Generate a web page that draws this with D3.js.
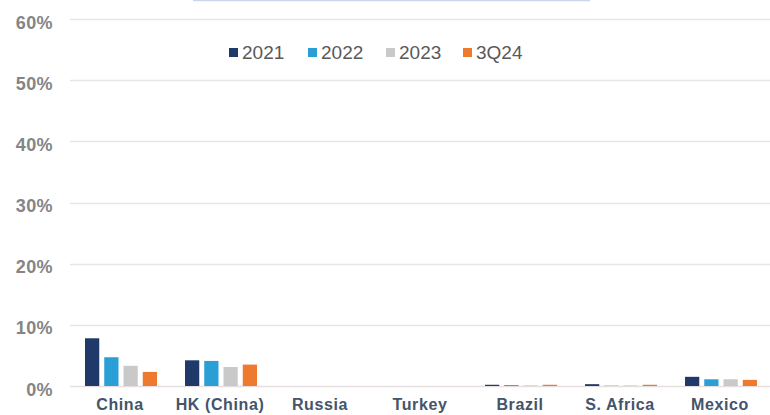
<!DOCTYPE html>
<html>
<head>
	<meta charset='utf-8'>
	<title>ShareChart</title>
	<script src='https://cdn.jsdelivr.net/npm/d3@7'></script>
	<style>
		body { margin: 0; background: #fff; }
	</style>
</head>
<body>
	<svg width='770' height='415'></svg>
	<script>
		// data
		const categories = ['China', 'HK (China)', 'Russia', 'Turkey', 'Brazil', 'S. Africa', 'Mexico']
		const seriesNames = ['2021', '2022', '2023', '3Q24']
		const v2021 = [7.8, 4.2, 0, 0, 0.2, 0.3, 1.5]
		const v2022 = [4.7, 4.1, 0, 0, 0.15, 0.05, 1.1]
		const v2023 = [3.3, 3.1, 0, 0, 0.1, 0.1, 1.1]
		const v3Q24 = [2.3, 3.5, 0, 0, 0.2, 0.2, 1.0]
		const yTicks = [0, 10, 20, 30, 40, 50, 60]
		const colors = ['#1f3a68', '#2a9fd6', '#c9c9c9', '#ee7a30']

		const series = [v2021, v2022, v2023, v3Q24]

		const margin = { top: 19, left: 70, right: 0, bottom: 29 }
		const width = 770, height = 415
		const font = 'Liberation Sans, Arial, sans-serif'

		const svg = d3.select('svg')

		// cropped title box border at the very top
		svg.append('line')
			.attr('x1', 193).attr('x2', 590).attr('y1', 0.5).attr('y2', 0.5)
			.attr('stroke', '#c9d6ee').attr('stroke-width', 1.5)

		const x = d3.scaleBand()
			.domain(categories)
			.range([margin.left, width - margin.right])

		const xInner = d3.scaleBand()
			.domain(seriesNames)
			.range([0, 72])
			.paddingInner(0.26)

		const y = d3.scaleLinear()
			.domain([0, 60])
			.range([height - margin.bottom, margin.top])

		// gridlines
		svg.append('g')
			.selectAll('line')
			.data(yTicks)
			.enter()
			.append('line')
			.attr('x1', margin.left)
			.attr('x2', width - margin.right)
			.attr('y1', d => Math.round(y(d)) + 0.5)
			.attr('y2', d => Math.round(y(d)) + 0.5)
			.attr('stroke', d => d === 0 ? '#e6dede' : '#e6e6e6')
			.attr('stroke-width', 1.5)

		// y axis labels
		const yAxis = d3.axisLeft(y).tickValues(yTicks).tickSize(0).tickPadding(17).tickFormat(d => d + '%')
		const gy = svg.append('g').attr('transform', `translate(${margin.left}, 0)`).call(yAxis)
		gy.select('.domain').remove()
		gy.selectAll('text')
			.attr('dy', '0.5em')
			.attr('font-family', font)
			.attr('font-size', '18px')
			.attr('font-weight', 'bold')
			.attr('letter-spacing', '0.4px')
			.attr('fill', '#858585')

		// bars
		const groups = svg.append('g')
			.selectAll('g')
			.data(categories)
			.enter()
			.append('g')
			.attr('transform', d => `translate(${x(d) + (x.bandwidth() - 72) / 2 + 1}, 0)`)

		groups.selectAll('rect')
			.data((c, ci) => seriesNames.map((s, si) => ({ s, si, v: series[si][ci] })))
			.enter()
			.append('rect')
			.attr('x', d => xInner(d.s))
			.attr('y', d => y(d.v))
			.attr('width', xInner.bandwidth())
			.attr('height', d => y(0) - y(d.v))
			.attr('fill', d => colors[d.si])

		// x axis labels
		const xAxis = d3.axisBottom(x).tickSize(0)
		const gx = svg.append('g').attr('transform', `translate(0, ${y(0)})`).call(xAxis)
		gx.select('.domain').remove()
		gx.selectAll('text')
			.attr('dy', null)
			.attr('y', 24)
			.attr('font-family', font)
			.attr('font-size', '16px')
			.attr('font-weight', 'bold')
			.attr('letter-spacing', '0.6px')
			.attr('fill', '#44546a')

		// legend
		const legendX = [229, 308, 386, 463]
		const legend = svg.append('g')
			.selectAll('g')
			.data(seriesNames)
			.enter()
			.append('g')
			.attr('transform', (d, i) => `translate(${legendX[i]}, 59)`)

		legend.append('rect')
			.attr('x', 0).attr('y', -11)
			.attr('width', 9).attr('height', 9)
			.attr('fill', (d, i) => colors[i])

		legend.append('text')
			.attr('x', 13)
			.attr('y', 0)
			.attr('font-family', font)
			.attr('font-size', '19px')
			.attr('fill', '#595959')
			.text(d => d)
	</script>
</body>
</html>
